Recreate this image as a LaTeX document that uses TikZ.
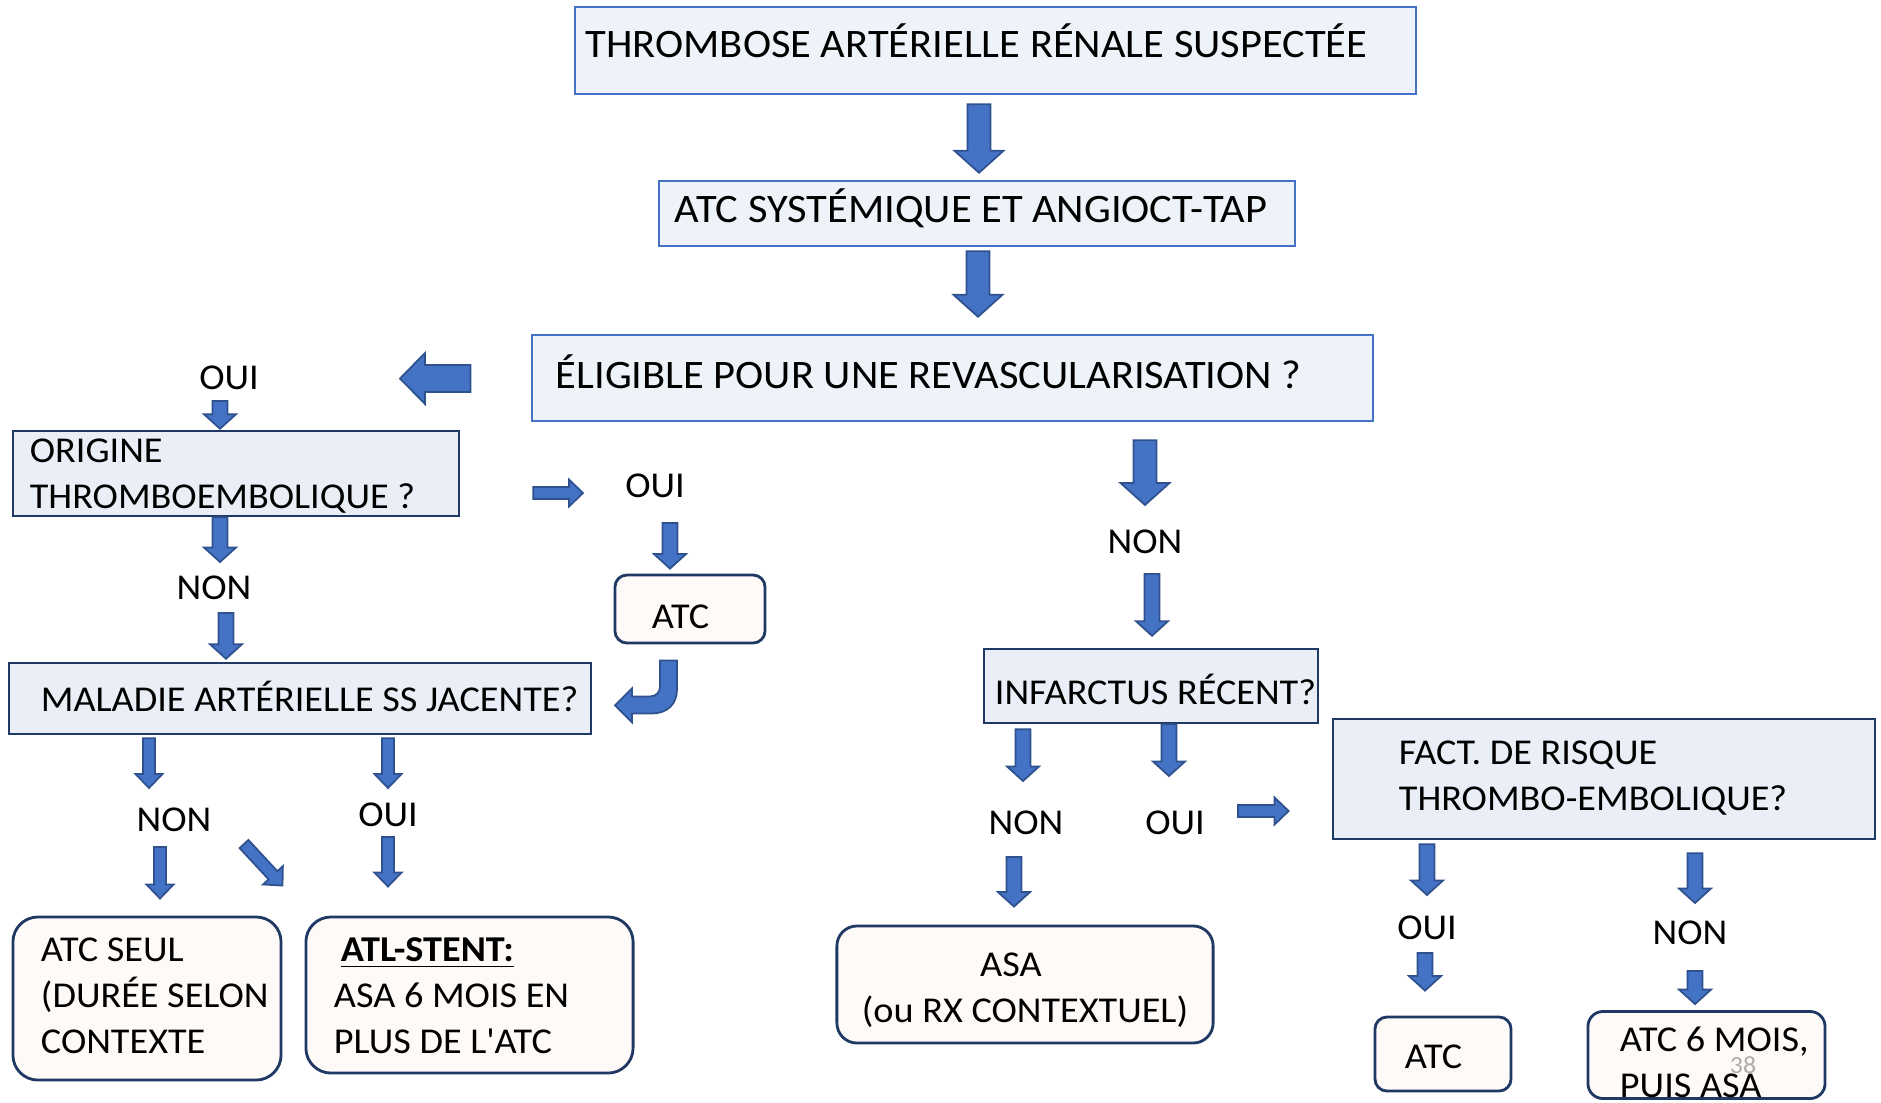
\documentclass[tikz,border=0pt]{standalone}
\usepackage{fontspec}
\setmainfont{Carlito}[FakeStretch=1.05]
\usetikzlibrary{calc}

\definecolor{arrowblue}{HTML}{4472C4}
\definecolor{arrowline}{HTML}{2F528F}
\definecolor{headfill}{HTML}{EEF2F9}
\definecolor{qfill}{HTML}{E9EEF7}
\definecolor{qline}{HTML}{1F3864}
\definecolor{endfill}{HTML}{FEFAF7}

% block arrow from #2 to #3, size set by the style #1
\newcommand{\barrow}[3][arrow mid]{%
  \tikzset{#1}%
  \coordinate (bS) at #2;
  \coordinate (bT) at #3;
  \coordinate (bH) at ($(bT)!\bl!(bS)$);
  \filldraw[block arrow] ($(bS)!\bw!90:(bT)$) -- ($(bH)!\bw!-90:(bS)$) -- ($(bH)!\bh!-90:(bS)$)
    -- (bT) -- ($(bH)!\bh!90:(bS)$) -- ($(bH)!\bw!90:(bS)$) -- ($(bS)!\bw!-90:(bT)$) -- cycle;}

\begin{document}
\begin{tikzpicture}[x=0.01cm, y=-0.01cm,
  every node/.style={execute at begin node={\frenchspacing\spaceskip=0pt\xspaceskip=0pt\relax}},
  block arrow/.style={draw=arrowline, fill=arrowblue, line width=0.5pt},
  arrow big/.code={\def\bw{1.15mm}\def\bh{2.45mm}\def\bl{2.2mm}},
  arrow side/.code={\def\bw{1.35mm}\def\bh{2.55mm}\def\bl{2.5mm}},
  arrow mid/.code={\def\bw{0.75mm}\def\bh{1.6mm}\def\bl{1.45mm}},
  arrow small/.code={\def\bw{0.6mm}\def\bh{1.35mm}\def\bl{1.4mm}},
  head box/.style={draw=arrowblue, fill=headfill, line width=0.7pt, align=left, inner ysep=0pt,
    font=\fontsize{11.5}{14}\selectfont},
  q box/.style={draw=qline, fill=qfill, line width=0.7pt, align=left, inner ysep=0pt,
    font=\fontsize{10.35}{13.1}\selectfont},
  end box/.style={draw=qline, fill=endfill, line width=0.8pt, rounded corners=#1, align=left,
    inner ysep=0pt, font=\fontsize{10.35}{13.1}\selectfont},
  end box/.default=2mm,
  answer/.style={inner sep=0pt, text height=2.3mm, text depth=0pt, font=\fontsize{10.35}{13.1}\selectfont}]

\useasboundingbox (0,0) rectangle (1881,1102);

% boxes
\node[head box, minimum width=8.41cm, minimum height=0.87cm, inner xsep=1.1mm, text width=8.19cm,
  text height=2.56mm, text depth=1.1mm] (top) at (995.5,50.5)
  {THROMBOSE ARTÉRIELLE RÉNALE SUSPECTÉE};
\node[head box, minimum width=6.36cm, minimum height=0.65cm, inner xsep=1.6mm, text width=6.04cm,
  text height=2.56mm, text depth=0.7mm] (sys) at (977,213.5)
  {ATC SYSTÉMIQUE ET ANGIOCT-TAP};
\node[head box, minimum width=8.41cm, minimum height=0.86cm, inner xsep=2.4mm, text width=7.93cm,
  text height=2.56mm, text depth=0.4mm] (elig) at (952.5,378)
  {ÉLIGIBLE POUR UNE REVASCULARISATION ?};
\node[q box, minimum width=4.46cm, minimum height=0.85cm, inner xsep=1.7mm, text width=4.12cm,
  text height=2.3mm, text depth=4.5mm] (orig) at (236,473.5)
  {ORIGINE\\\mbox{THROMBOEMBOLIQUE ?}};
\node[q box, minimum width=5.82cm, minimum height=0.71cm, inner xsep=3.2mm, text width=5.18cm,
  text height=2.6mm, text depth=0pt] (mal) at (300,698.5)
  {\mbox{MALADIE ARTÉRIELLE SS JACENTE?}};
\node[end box=1.2mm, minimum width=1.5cm, minimum height=0.68cm, inner xsep=3.7mm, text width=0.76cm,
  text height=3.9mm, text depth=0pt] (atc1) at (690,609) {ATC};
\node[q box, minimum width=3.34cm, minimum height=0.74cm, inner xsep=1.1mm, text width=3.12cm,
  text height=3.7mm, text depth=0pt] (infarct) at (1151,686) {\mbox{INFARCTUS RÉCENT?}};
\node[q box, minimum width=5.42cm, minimum height=1.2cm, inner xsep=6.6mm, text width=4.1cm,
  text height=2.3mm, text depth=5.3mm] (fact) at (1604,779)
  {FACT. DE RISQUE\\\mbox{THROMBO-EMBOLIQUE?}};
\node[end box=2.5mm, minimum width=2.68cm, minimum height=1.63cm, inner xsep=2.8mm, text width=2.12cm,
  text height=2.3mm, text depth=9.7mm] (seul) at (147,998.5)
  {\mbox{ATC SEUL}\\\mbox{(DURÉE SELON}\\CONTEXTE};
\node[end box=2.5mm, minimum width=3.27cm, minimum height=1.56cm, inner xsep=2.8mm, text width=2.71cm,
  text height=2.5mm, text depth=9.2mm] (stent) at (469.5,995)
  {\hspace*{0.7mm}\textbf{\underline{ATL-STENT:}}\\\mbox{ASA 6 MOIS EN}\\\mbox{PLUS DE L\textquotesingle ATC}};
\node[end box=2mm, minimum width=3.76cm, minimum height=1.17cm, inner xsep=1mm, text width=3.56cm,
  align=center, text height=3.1mm, text depth=4.7mm] (asa) at (1025,984.5)
  {\mbox{ASA\hspace{2.8mm}}\\\mbox{(ou RX CONTEXTUEL)}};
\node[end box=1.2mm, minimum width=1.36cm, minimum height=0.74cm, inner xsep=3mm, text width=0.76cm,
  text height=2.9mm, text depth=0pt] (atc2) at (1443,1054) {ATC};
\node[end box=1.5mm, minimum width=2.37cm, minimum height=0.84cm, inner xsep=3.2mm, text width=1.73cm,
  text height=4mm, text depth=4.7mm] (atc6) at (1706.5,1055)
  {\mbox{ATC 6 MOIS,}\\\mbox{PUIS ASA}};

% answers
\node[answer] (oui1) at (229,378) {OUI};
\node[answer] (oui2) at (655,486) {OUI};
\node[answer] (non1) at (214,588) {NON};
\node[answer] (non2) at (174,820) {NON};
\node[answer] (oui3) at (388,815) {OUI};
\node[answer] (non3) at (1145,542) {NON};
\node[answer] (non4) at (1026,823) {NON};
\node[answer] (oui4) at (1175,823) {OUI};
\node[answer] (oui5) at (1427,928) {OUI};
\node[answer] (non5) at (1690,933) {NON};
\node[inner sep=0pt, text=gray!65, font=\fontsize{7}{8}\selectfont] (slide) at (1743,1065) {38};

% arrows
\barrow[arrow big]{($(top.south)+(-16.5,9)$)}{($(sys.north)+(2,-7)$)}
\barrow[arrow big]{($(sys.south)+(1,4)$)}{($(elig.north)+(25.5,-17)$)}
\barrow[arrow side]{($(elig.west)+(-60,0.5)$)}{($(oui1)+(171,0.5)$)}
\barrow[arrow mid]{($(oui1)+(-9,23)$)}{($(orig.north)+(-16,-1)$)}
\barrow[arrow mid]{($(orig.south)+(-16,0)$)}{($(non1)+(6,-26)$)}
\barrow[arrow mid]{($(non1)+(12,25)$)}{($(mal.north)+(-74,-3)$)}
\barrow[arrow small]{($(orig.east)+(73,19.5)$)}{($(oui2)+(-72,7)$)}
\barrow[arrow mid]{($(oui2)+(15,37)$)}{($(atc1.north)+(-20,-5)$)}

\coordinate (bend) at ($(atc1.south)+(-21.5,16)$);
\filldraw[block arrow, shift={(bend)}] (-8.5,0) -- (8.5,0) -- (8.5,29)
  .. controls (8.5,43) and (-0.5,53) .. (-16.5,53) -- (-36.5,53) -- (-36.5,62) -- (-53.5,45)
  -- (-36.5,28) -- (-36.5,36) -- (-18.5,36) .. controls (-12.5,36) and (-8.5,32) .. (-8.5,26) -- cycle;

\barrow[arrow small]{($(mal.south)+(-151,3)$)}{($(non2)+(-25,-32)$)}
\barrow[arrow small]{($(mal.south)+(88,3)$)}{($(oui3)+(0,-27)$)}
\barrow[arrow small]{($(non2)+(-14,27)$)}{($(seul.north)+(13,-17)$)}
\barrow[arrow small]{($(non2)+(70,24)$)}{($(stent.north west)+(-22,-30)$)}
\barrow[arrow small]{($(oui3)+(0,22)$)}{($(stent.north)+(-81.5,-29)$)}

\barrow[arrow big]{($(elig.south)+(192.5,18)$)}{($(non3)+(0,-37)$)}
\barrow[arrow mid]{($(non3)+(7,32)$)}{($(infarct.north)+(1,-12)$)}
\barrow[arrow mid]{($(infarct.south)+(-128,5)$)}{($(non4)+(-3,-42)$)}
\barrow[arrow mid]{($(infarct.south)+(18,0)$)}{($(oui4)+(-6,-47)$)}
\barrow[arrow small]{($(oui4)+(63,-12)$)}{($(fact.west)+(-43,32)$)}
\barrow[arrow mid]{($(non4)+(-12,34)$)}{($(asa.north)+(-11,-18)$)}
\barrow[arrow mid]{($(fact.south)+(-177,4)$)}{($(oui5)+(0,-33)$)}
\barrow[arrow mid]{($(fact.south)+(91,13)$)}{($(non5)+(5,-30)$)}
\barrow[arrow mid]{($(oui5)+(-2,25)$)}{($(atc2.north)+(-18,-25)$)}
\barrow[arrow mid]{($(non5)+(5,38)$)}{($(atc6.north)+(-11.5,-6)$)}

\end{tikzpicture}
\end{document}
